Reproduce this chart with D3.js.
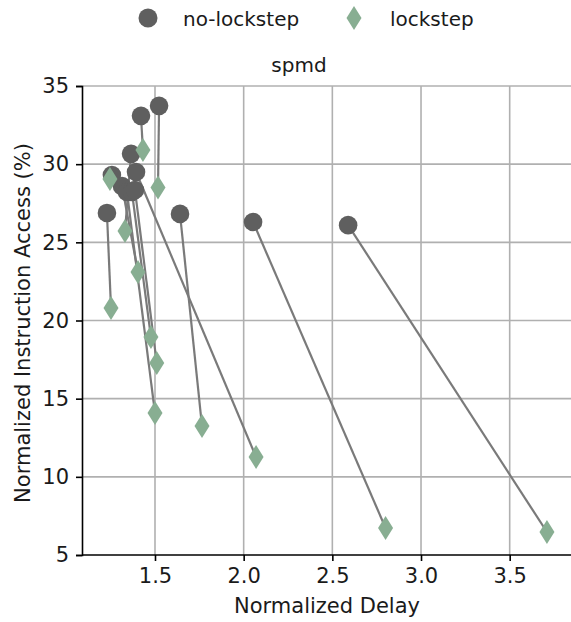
<!DOCTYPE html>
<html>
<head>
<meta charset="utf-8">
<script src="https://cdn.jsdelivr.net/npm/d3@7"></script>
<style>
  html, body { margin: 0; padding: 0; background: #fff; }
  svg { display: block; font-family: "DejaVu Sans", sans-serif; }
</style>
</head>
<body>
<svg id="chart" width="571" height="622"></svg>
<script>
// Paired measurements: each no-lockstep run is joined to its lockstep counterpart
const noLockDelay  = [1.229, 1.257, 1.365, 1.421, 1.523, 1.393, 1.641, 2.053, 2.589, 1.314, 1.342, 1.370, 1.387];
const noLockAccess = [26.88, 29.30, 30.66, 33.09, 33.73, 29.50, 26.82, 26.30, 26.10, 28.60, 28.22, 28.22, 28.35];
const lockDelay    = [1.252, 1.246, 1.331, 1.432, 1.517, 2.070, 1.765, 2.800, 3.710, 1.404, 1.500, 1.477, 1.510];
const lockAccess   = [20.80, 29.05, 25.73, 30.90, 28.50, 11.27, 13.25, 6.73, 6.47, 23.10, 14.08, 18.95, 17.28];

const xTicks = [1.5, 2.0, 2.5, 3.0, 3.5];
const yTicks = [5, 10, 15, 20, 25, 30, 35];
const seriesNames = ["no-lockstep", "lockstep"];
const panelTitle = "spmd";

const circleColor = "#5f5f5f";
const diamondColor = "#88ae92";
const linkColor = "#7a7a7a";
const gridColor = "#b0b0b0";

const svg = d3.select("#chart");

const x = d3.scaleLinear().domain([1.0884, 3.8457]).range([82, 571]);
const y = d3.scaleLinear().domain([5, 35]).range([555, 86]);

// grid
const grid = svg.append("g");
grid.selectAll("line.gx").data(xTicks).join("line")
  .attr("x1", d => x(d)).attr("x2", d => x(d))
  .attr("y1", y(5)).attr("y2", y(35))
  .attr("stroke", gridColor).attr("stroke-width", 1.6);
grid.selectAll("line.gy").data(yTicks.filter(d => d > 5)).join("line")
  .attr("x1", x.range()[0]).attr("x2", x.range()[1])
  .attr("y1", d => y(d)).attr("y2", d => y(d))
  .attr("stroke", gridColor).attr("stroke-width", 1.6);

// axes
const xAxis = d3.axisBottom(x).tickValues(xTicks).tickFormat(d3.format(".1f")).tickSizeOuter(0).tickSize(6).tickPadding(7);
const yAxis = d3.axisLeft(y).tickValues(yTicks).tickFormat(d3.format("d")).tickSizeOuter(0).tickSize(6).tickPadding(7);

const gx = svg.append("g").attr("transform", `translate(0,${y(5)})`).call(xAxis);
const gy = svg.append("g").attr("transform", `translate(${x.range()[0]},0)`).call(yAxis);
[gx, gy].forEach(g => {
  g.select(".domain").attr("stroke", "#000").attr("stroke-width", 1.6);
  g.selectAll(".tick line").attr("stroke", "#000").attr("stroke-width", 1.6);
  g.selectAll(".tick text").attr("fill", "#1a1a1a")
    .style("font-family", "DejaVu Sans").style("font-size", "21px");
});
// x axis line starts at the y spine
gx.select(".domain").attr("d", `M${x.range()[0]},0H${x.range()[1]}`);

// axis labels
svg.append("text").attr("x", 327).attr("y", 613).attr("text-anchor", "middle")
  .style("font-size", "21px").attr("fill", "#1a1a1a").text("Normalized Delay");
svg.append("text").attr("transform", `translate(30,323) rotate(-90)`).attr("text-anchor", "middle")
  .style("font-size", "21px").attr("fill", "#1a1a1a").text("Normalized Instruction Access (%)");

// panel title
svg.append("text").attr("x", 299).attr("y", 72).attr("text-anchor", "middle")
  .style("font-size", "20px").attr("fill", "#1a1a1a").text(panelTitle);

const pairs = noLockDelay.map((d, i) => ({
  x0: noLockDelay[i], y0: noLockAccess[i], x1: lockDelay[i], y1: lockAccess[i]
}));

const diamondPath = (w, h) => `M0,${-h/2}L${w/2},0L0,${h/2}L${-w/2},0Z`;

// connecting segments
svg.append("g").selectAll("line").data(pairs).join("line")
  .attr("x1", d => x(d.x0)).attr("y1", d => y(d.y0))
  .attr("x2", d => x(d.x1)).attr("y2", d => y(d.y1))
  .attr("stroke", linkColor).attr("stroke-width", 2.2);

// no-lockstep markers
svg.append("g").selectAll("circle").data(pairs).join("circle")
  .attr("cx", d => x(d.x0)).attr("cy", d => y(d.y0)).attr("r", 9.3)
  .attr("fill", circleColor);

// lockstep markers
svg.append("g").selectAll("path").data(pairs).join("path")
  .attr("transform", d => `translate(${x(d.x1)},${y(d.y1)})`)
  .attr("d", diamondPath(15, 24))
  .attr("fill", diamondColor);

// legend
const legend = svg.append("g");
legend.append("circle").attr("cx", 148).attr("cy", 18).attr("r", 9.5).attr("fill", circleColor);
legend.append("text").attr("x", 183).attr("y", 26).style("font-size", "20px").attr("fill", "#1a1a1a").text(seriesNames[0]);
legend.append("path").attr("transform", "translate(354,18)").attr("d", diamondPath(15, 24)).attr("fill", diamondColor);
legend.append("text").attr("x", 390).attr("y", 26).style("font-size", "20px").attr("fill", "#1a1a1a").text(seriesNames[1]);
</script>
</body>
</html>
